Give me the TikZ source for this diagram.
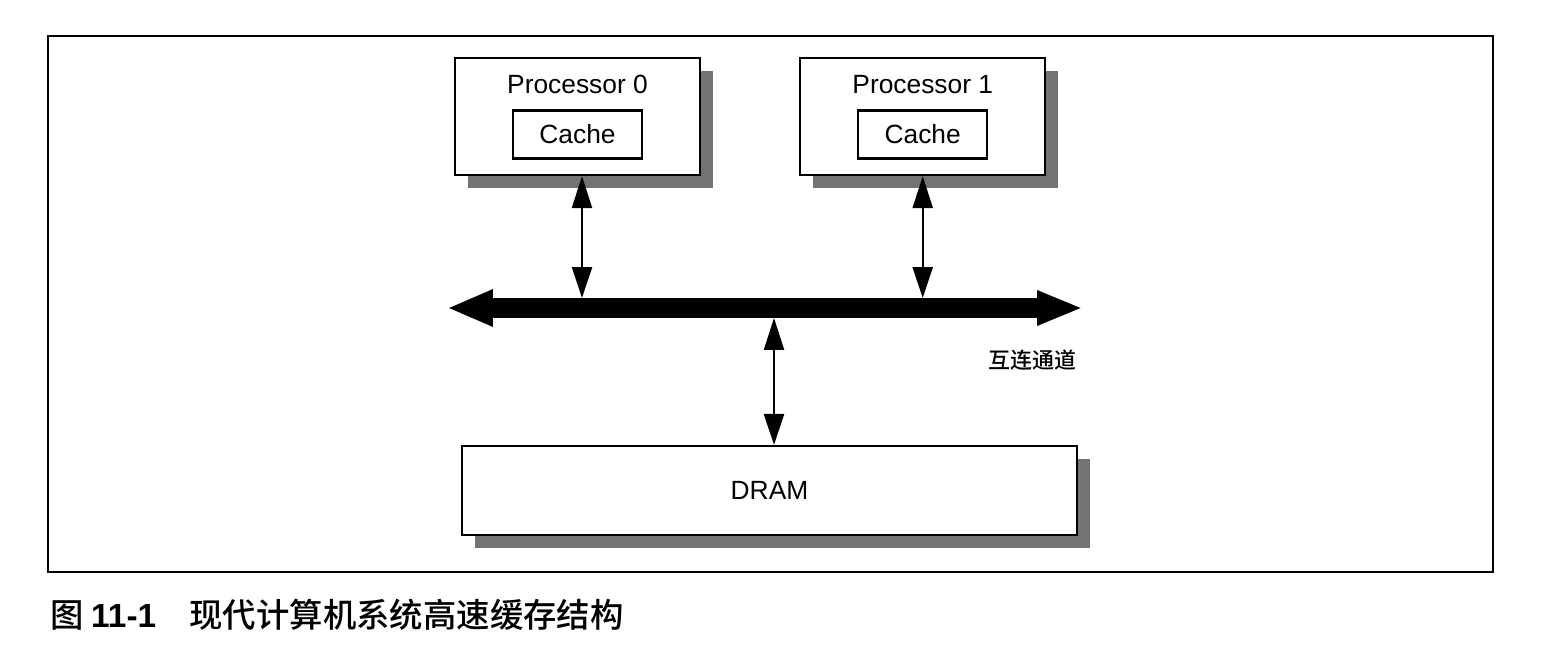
\documentclass[tikz,border=0pt]{standalone}
\usepackage{fontspec}
\setmainfont{Liberation Sans}
\newfontfamily\cjk{Noto Sans CJK SC}
\newfontfamily\cjkcap{Noto Sans CJK SC Medium}
\usepackage{tikz}
\usetikzlibrary{arrows.meta, positioning, shadows, calc}
\usepackage{xcolor}
\definecolor{shadowgray}{RGB}{115,115,115}
\tikzset{
    unitbox/.style={rectangle, draw=black, line width=1.3pt, fill=white,
        drop shadow={shadow xshift=0.26cm, shadow yshift=-0.26cm, fill=shadowgray, opacity=1}},
    procbox/.style={unitbox, minimum width=4.9cm, minimum height=2.34cm},
    cachebox/.style={rectangle, draw=black, line width=1.2pt,
        minimum width=2.58cm, minimum height=0.96cm, font=\fontsize{15}{18}\selectfont},
    title/.style={font=\fontsize{15}{18}\selectfont, inner sep=0pt},
    link/.style={{Triangle[length=0.64cm, width=0.4cm]}-{Triangle[length=0.62cm, width=0.4cm]}, line width=1.4pt},
    busline/.style={{Triangle[length=0.92cm, width=0.68cm]}-{Triangle[length=0.92cm, width=0.64cm]}, line width=0.4cm}
}

\begin{document}
\begin{tikzpicture}[x=0.02cm, y=-0.02cm]
    \useasboundingbox (0,0) rectangle (1550,652);
    \draw[line width=1pt] (48,36) rectangle (1493,572);

    \node[procbox] (proc0) at (577.5,116.5) {};
    \node[procbox, right=1.96cm of proc0] (proc1) {};
    \node[title] (title0) at ([yshift=-0.55cm]proc0.north) {Processor 0};
    \node[title] (title1) at ([yshift=-0.55cm]proc1.north) {Processor 1};
    \node[cachebox] (cache0) at ([yshift=-0.36cm]proc0.center) {Cache};
    \node[cachebox] (cache1) at ([yshift=-0.36cm]proc1.center) {Cache};
    \node[unitbox, minimum width=12.3cm, minimum height=1.78cm,
        font=\fontsize{15}{18}\selectfont] (dram) at (769.5,490.5) {DRAM};

    \coordinate (busL) at (447,308);
    \coordinate (busR) at (1083,308);
    \coordinate (busTop) at (0,298);
    \coordinate (busBot) at (774,318);
    \draw[busline] (busL) -- (busR);

    \draw[link] ([xshift=0.09cm]proc0.south) -- ([xshift=0.09cm]proc0.south |- busTop);
    \draw[link] (proc1.south) -- (proc1.south |- busTop);
    \draw[link] (busBot) -- (busBot |- dram.north);

    \node[font=\cjkcap\fontsize{12.5}{15}\selectfont, anchor=east] (buslabel) at (1083,360) {互连通道};
    \node[font=\cjkcap\fontsize{19}{22}\selectfont, anchor=west, inner sep=0pt] (caption)
        at (50,615) {图 {\rmfamily\bfseries 11-1}\hspace{1.0em}现代计算机系统高速缓存结构};
\end{tikzpicture}
\end{document}
